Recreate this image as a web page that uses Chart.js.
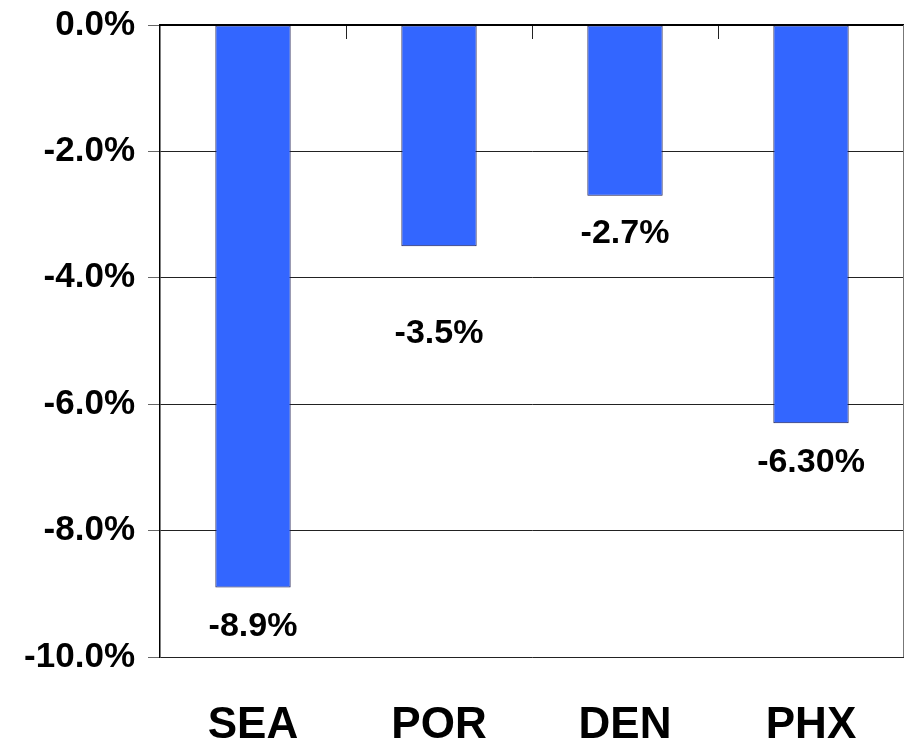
<!DOCTYPE html>
<html>
<head>
<meta charset="utf-8">
<script src="https://cdn.jsdelivr.net/npm/chart.js@4"></script>
<style>
  html, body { margin: 0; padding: 0; background: #fff; }
  #wrap { width: 906px; height: 747px; }
</style>
</head>
<body>
<div id="wrap"><canvas id="myChart" width="906" height="747"></canvas></div>
<script>
// datos del grafico
const cities = ['SEA', 'POR', 'DEN', 'PHX'];
const changes = [-8.9, -3.5, -2.7, -6.3];
const valueLabels = ['-8.9%', '-3.5%', '-2.7%', '-6.30%'];
const yTicks = [0, -2, -4, -6, -8, -10];

// distancia de la linea base del texto bajo el final de cada barra
const labelGap = [49, 97, 47, 49];

const FONT = "'Liberation Sans', Arial, sans-serif";

// etiquetas de valor debajo de cada barra + marcas superiores + borde derecho
const extras = {
    id: 'extras',
    afterDatasetsDraw(chart) {
        const { ctx, chartArea, scales } = chart;
        const bars = chart.getDatasetMeta(0).data;
        ctx.save();
        ctx.font = 'bold 34px ' + FONT;
        ctx.fillStyle = '#000';
        ctx.textAlign = 'center';
        ctx.textBaseline = 'alphabetic';
        bars.forEach((bar, i) => {
            ctx.fillText(valueLabels[i], bar.x, bar.y + labelGap[i]);
        });

        // marcas entre categorias, hacia abajo desde la linea 0
        ctx.strokeStyle = '#222';
        ctx.lineWidth = 1;
        const x = scales.x;
        for (let i = 1; i < cities.length; i++) {
            const px = Math.round((x.getPixelForValue(i - 1) + x.getPixelForValue(i)) / 2) + 0.5;
            ctx.beginPath();
            ctx.moveTo(px, chartArea.top);
            ctx.lineTo(px, chartArea.top + 14);
            ctx.stroke();
        }

        // linea del cero mas marcada
        ctx.strokeStyle = '#000';
        ctx.lineWidth = 2;
        ctx.beginPath();
        ctx.moveTo(chartArea.left, chartArea.top);
        ctx.lineTo(chartArea.right, chartArea.top);
        ctx.stroke();

        // borde derecho gris
        ctx.strokeStyle = '#777';
        ctx.lineWidth = 1;
        ctx.beginPath();
        ctx.moveTo(chartArea.right - 0.5, chartArea.top);
        ctx.lineTo(chartArea.right - 0.5, chartArea.bottom);
        ctx.stroke();
        ctx.restore();
    }
};

const ctx = document.getElementById('myChart');

new Chart(ctx, {
    type: 'bar',
    data: {
        labels: cities,
        datasets: [{
            data: changes,
            backgroundColor: '#3366FF',
            borderColor: '#1c1c50',
            borderWidth: 1,
            borderSkipped: false,
            categoryPercentage: 1,
            barPercentage: 0.405
        }]
    },
    options: {
        responsive: false,
        animation: false,
        layout: { padding: { top: 25, right: 2, left: 0, bottom: 0 } },
        plugins: {
            legend: { display: false },
            tooltip: { enabled: false }
        },
        scales: {
            x: {
                position: 'bottom',
                grid: { display: false },
                border: { display: false },
                ticks: {
                    color: '#000',
                    font: { family: FONT, size: 44, weight: 'bold' },
                    padding: 34
                },
                afterFit(scale) {
                    scale.height = 90;
                    scale.paddingLeft = 0;
                    scale.paddingRight = 0;
                }
            },
            y: {
                min: -10,
                max: 0,
                afterBuildTicks(scale) {
                    scale.ticks = yTicks.map(v => ({ value: v }));
                },
                grid: {
                    color: '#222',
                    lineWidth: 1,
                    tickLength: 12,
                    tickColor: '#666'
                },
                border: { display: true, color: '#000', width: 1.5 },
                ticks: {
                    color: '#000',
                    padding: 13,
                    font: { family: FONT, size: 35, weight: 'bold' },
                    callback: v => v.toFixed(1) + '%'
                },
                afterFit(scale) {
                    scale.width = 160;
                    scale.paddingTop = 0;
                    scale.paddingBottom = 0;
                }
            }
        }
    },
    plugins: [extras]
});
</script>
</body>
</html>
